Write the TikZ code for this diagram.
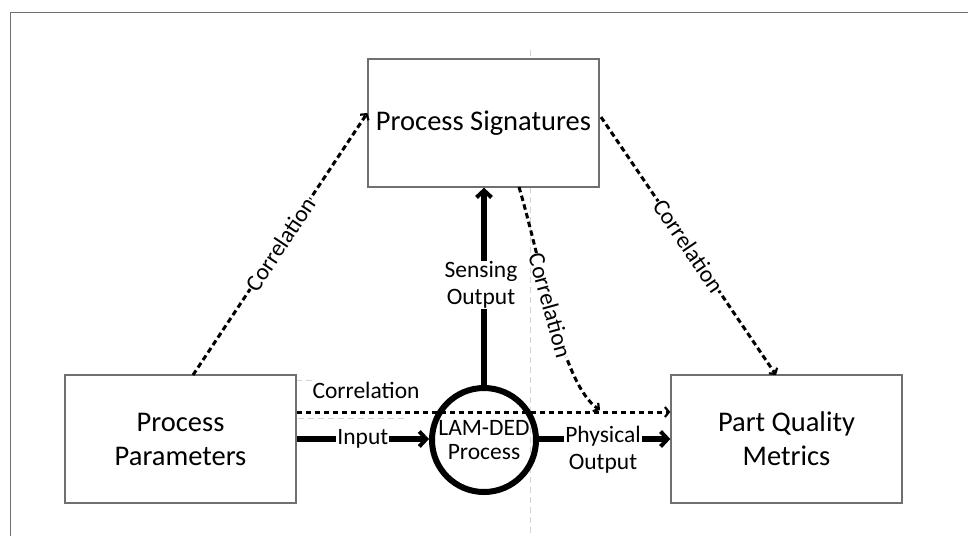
\documentclass[tikz,border=0pt]{standalone}
\usepackage{fontspec}
\setmainfont{Carlito}
\usetikzlibrary{arrows.meta}
\definecolor{boxgray}{HTML}{707070}
\definecolor{guidegray}{HTML}{D4D4D4}
\tikzset{
  block/.style={draw=boxgray, line width=1.4pt, minimum width=231pt, minimum height=128pt,
    inner sep=0pt, align=center, font=\fontsize{28.5}{34}\selectfont},
  procnode/.style={circle, draw, line width=6pt, minimum size=104pt, inner sep=0pt,
    align=center, font=\fontsize{23.5}{24}\selectfont},
  flow/.style={line width=5.5pt, -{Straight Barb[length=7pt, width=15pt, line width=4pt]}},
  corr/.style={line width=3pt, dash pattern=on 5.5pt off 3.5pt,
    -{Straight Barb[length=4pt, width=10pt, line width=2.2pt]}},
  lbl/.style={fill=white, inner sep=1pt, align=center, font=\fontsize{23.5}{27}\selectfont},
  guide/.style={draw=guidegray, line width=1pt, dash pattern=on 6pt off 4pt},
}
\begin{document}
\begin{tikzpicture}[x=1pt, y=-1pt]
\useasboundingbox (0,0) rectangle (968,536);

% outer frame (open at the right and bottom)
\draw[boxgray, line width=1.5pt] (968,12.5) -- (10.5,12.5) -- (10.5,536);

% faint alignment guides
\draw[guide] (530,187) -- (530,536);
\draw[guide] (530,50) -- (530,59);
\draw[guide] (296,380) -- (312,380);
\draw[guide] (298,418) -- (404,418);

% blocks
\node[block] (sig)   at (483.5,123) {Process Signatures};
\node[block] (param) at (180.5,439) {Process\\Parameters};
\node[block] (qual)  at (786.5,439) {Part Quality\\Metrics};
\node[procnode] (proc) at (484,440) {LAM-DED\\Process};

% anchor points on the block sides
\coordinate (pIn)   at (param.east |- 0,439);
\coordinate (pCor)  at (param.east |- 0,412);
\coordinate (pTop)  at (193,375);
\coordinate (qIn)   at (qual.west |- 0,439);
\coordinate (qCor)  at (qual.west |- 0,412);
\coordinate (qTop)  at (776,375);
\coordinate (sL)    at (sig.west |- 0,113);
\coordinate (sR)    at (601,117);
\coordinate (sB)    at (519,187);
\coordinate (mid)   at (600,410);

% material / signal flow
\draw[flow] (pIn) -- node[lbl, pos=0.5] {Input} (proc.west |- pIn);
\draw[flow] (proc.east |- qIn) -- (qIn);
\node[lbl, anchor=north] at (603,425) {Physical\\Output};
\draw[flow] (proc.north) -- (sig.south -| proc.north);
\node[lbl] at (481,285) {Sensing\\Output};

% correlations
\draw[corr] (pTop) -- node[lbl, sloped, inner sep=0.5pt] {Correlation} (sL);
\draw[corr] (sR) -- node[lbl, sloped, inner sep=0.5pt] {Correlation} (qTop);
\draw[corr] (pCor) -- (qCor);
\node[font=\fontsize{23.5}{27}\selectfont] at (366,390) {Correlation};
\draw[corr] (sB) .. controls (542,265) and (562,385) .. node[lbl, sloped, pos=0.45, inner sep=0.5pt] {Correlation} (mid);
\end{tikzpicture}
\end{document}
